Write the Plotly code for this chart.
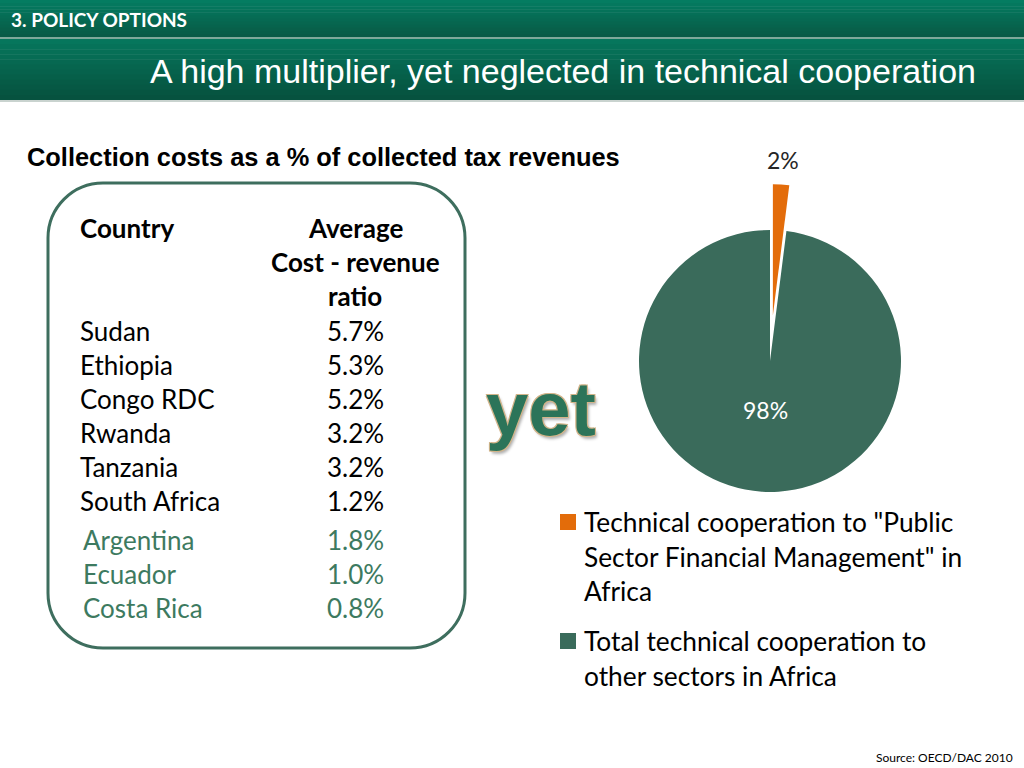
import plotly.graph_objects as go

# ---------------- data ----------------
countries_africa = ["Sudan", "Ethiopia", "Congo RDC", "Rwanda", "Tanzania", "South Africa"]
ratios_africa = ["5.7%", "5.3%", "5.2%", "3.2%", "3.2%", "1.2%"]
countries_latam = ["Argentina", "Ecuador", "Costa Rica"]
ratios_latam = ["1.8%", "1.0%", "0.8%"]

pie_labels = ['Technical cooperation to "Public Sector Financial Management" in Africa',
              "Total technical cooperation to other sectors in Africa"]
pie_values = [2, 98]
legend_lines = [['Technical cooperation to "Public', 'Sector Financial Management" in', "Africa"],
                ["Total technical cooperation to", "other sectors in Africa"]]

ORANGE = "#e36c0a"
GREEN = "#3a6b5b"
W, H = 1024, 768
BODY = "Lato"

fig = go.Figure()

# pie: centre (770,361), radius ~131
pull = 0.35
r = 131
half = r * (1 + pull)
cx, cy = 770, 361
fig.add_trace(go.Pie(
    labels=pie_labels, values=pie_values, sort=False, direction="clockwise", rotation=0,
    pull=[pull, 0], marker=dict(colors=[ORANGE, GREEN], line=dict(width=0)),
    textinfo="none",
    domain=dict(x=[(cx - half) / W, (cx + half) / W], y=[1 - (cy + half) / H, 1 - (cy - half) / H]),
    showlegend=False, hoverinfo="label+percent",
))

shapes = []
annotations = []

# percent labels computed from the data
total = sum(pie_values)
pct = [f"{round(100 * v / total)}%" for v in pie_values]
annotations.append(dict(x=783, y=160, xref="x", yref="y", xanchor="center", yanchor="middle",
                        text=pct[0], showarrow=False, font=dict(family=BODY, size=23, color="#262626")))
annotations.append(dict(x=765, y=410, xref="x", yref="y", xanchor="center", yanchor="middle",
                        text=pct[1], showarrow=False, font=dict(family=BODY, size=23, color="white")))

# header bars with simple vertical gradient
def grad(y0, y1, c0, c1, n=12):
    for i in range(n):
        t = i / (n - 1)
        col = tuple(int(c0[k] + (c1[k] - c0[k]) * t) for k in range(3))
        ya = y0 + (y1 - y0) * i / n
        yb = y0 + (y1 - y0) * (i + 1) / n
        shapes.append(dict(type="rect", xref="x", yref="y", x0=0, x1=W, y0=ya, y1=yb + 0.5,
                           fillcolor="rgb(%d,%d,%d)" % col, line=dict(width=0), layer="below"))

grad(0, 37, (4, 124, 97), (9, 90, 70))
shapes.append(dict(type="rect", xref="x", yref="y", x0=0, x1=W, y0=37, y1=39,
                   fillcolor="#7fa89a", line=dict(width=0), layer="below"))
grad(39, 100, (6, 118, 92), (6, 82, 63))
shapes.append(dict(type="rect", xref="x", yref="y", x0=0, x1=W, y0=100, y1=102,
                   fillcolor="#c9d3cf", line=dict(width=0), layer="below"))

annotations.append(dict(x=9, y=19, xref="x", yref="y", xanchor="left", yanchor="middle",
                        text="<b>3. POLICY OPTIONS</b>", showarrow=False,
                        font=dict(family=BODY, size=19, color="white")))
annotations.append(dict(x=148, y=71, xref="x", yref="y", xanchor="left", yanchor="middle",
                        text="A high multiplier, yet neglected in technical cooperation", showarrow=False,
                        font=dict(family="Liberation Sans", size=34, color="white")))
annotations.append(dict(x=25, y=157, xref="x", yref="y", xanchor="left", yanchor="middle",
                        text="<b>Collection costs as a % of collected tax revenues</b>", showarrow=False,
                        font=dict(family="Liberation Sans", size=25.4, color="black")))

# rounded rectangle
x0, x1, y0, y1, rr = 48, 465, 183, 648, 55
k = 0.5523 * rr
path = (f"M {x0+rr},{y0} L {x1-rr},{y0} C {x1-rr+k},{y0} {x1},{y0+rr-k} {x1},{y0+rr} "
        f"L {x1},{y1-rr} C {x1},{y1-rr+k} {x1-rr+k},{y1} {x1-rr},{y1} "
        f"L {x0+rr},{y1} C {x0+rr-k},{y1} {x0},{y1-rr+k} {x0},{y1-rr} "
        f"L {x0},{y0+rr} C {x0},{y0+rr-k} {x0+rr-k},{y0} {x0+rr},{y0} Z")
shapes.append(dict(type="path", xref="x", yref="y", path=path, line=dict(color="#3e6e5e", width=3)))

TS = 26
annotations.append(dict(x=78, y=228, xref="x", yref="y", xanchor="left", yanchor="middle",
                        text="<b>Country</b>", showarrow=False, font=dict(family=BODY, size=TS, color="black")))
for i, t in enumerate(["Average", "Cost - revenue", "ratio"]):
    annotations.append(dict(x=355, y=228 + 34 * i, xref="x", yref="y", xanchor="center", yanchor="middle",
                            text=f"<b>{t}</b>", showarrow=False, font=dict(family=BODY, size=TS, color="black")))
for i, (c, v) in enumerate(zip(countries_africa, ratios_africa)):
    yy = 331 + 34 * i
    annotations.append(dict(x=78, y=yy, xref="x", yref="y", xanchor="left", yanchor="middle", text=c,
                            showarrow=False, font=dict(family=BODY, size=TS, color="black")))
    annotations.append(dict(x=355, y=yy, xref="x", yref="y", xanchor="center", yanchor="middle", text=v,
                            showarrow=False, font=dict(family=BODY, size=TS, color="black")))
LAT = "#3d7a60"
for i, (c, v) in enumerate(zip(countries_latam, ratios_latam)):
    yy = 540 + 34 * i
    annotations.append(dict(x=81, y=yy, xref="x", yref="y", xanchor="left", yanchor="middle", text=c,
                            showarrow=False, font=dict(family=BODY, size=TS, color=LAT)))
    annotations.append(dict(x=355, y=yy, xref="x", yref="y", xanchor="center", yanchor="middle", text=v,
                            showarrow=False, font=dict(family=BODY, size=TS, color=LAT)))

# "yet" word art
annotations.append(dict(x=541, y=408, xref="x", yref="y", xanchor="center", yanchor="middle",
                        text="<b>yet</b>", showarrow=False,
                        font=dict(family="Liberation Sans", size=76, color="#2c7459",
                                  shadow="1px 1px 0 #d2b48a, -1px -1px 0 #d2b48a, 1px -1px 0 #d2b48a, -1px 1px 0 #d2b48a, 2px 3px 3px #b0b0b0")))

# custom legend
leg_tops = [522, 641]
for j, lines in enumerate(legend_lines):
    ytop = leg_tops[j]
    shapes.append(dict(type="rect", xref="x", yref="y", x0=560, x1=576, y0=ytop - 8, y1=ytop + 8,
                       fillcolor=[ORANGE, GREEN][j], line=dict(width=0)))
    for i, ln in enumerate(lines):
        annotations.append(dict(x=582, y=ytop + 34.5 * i, xref="x", yref="y", xanchor="left", yanchor="middle",
                                text=ln, showarrow=False, font=dict(family=BODY, size=26.3, color="black")))

annotations.append(dict(x=1015, y=757, xref="x", yref="y", xanchor="right", yanchor="middle",
                        text="Source: OECD/DAC 2010", showarrow=False,
                        font=dict(family=BODY, size=12, color="black")))

fig.update_layout(
    width=W, height=H, margin=dict(l=0, r=0, t=0, b=0),
    paper_bgcolor="white", plot_bgcolor="white",
    xaxis=dict(range=[0, W], visible=False, fixedrange=True, domain=[0, 1]),
    yaxis=dict(range=[H, 0], visible=False, fixedrange=True, domain=[0, 1]),
    shapes=shapes, annotations=annotations, showlegend=False,
)

fig.write_html("out.html", post_script="document.body.style.margin='0';document.body.style.overflow='hidden';",
               config={"displayModeBar": False})
